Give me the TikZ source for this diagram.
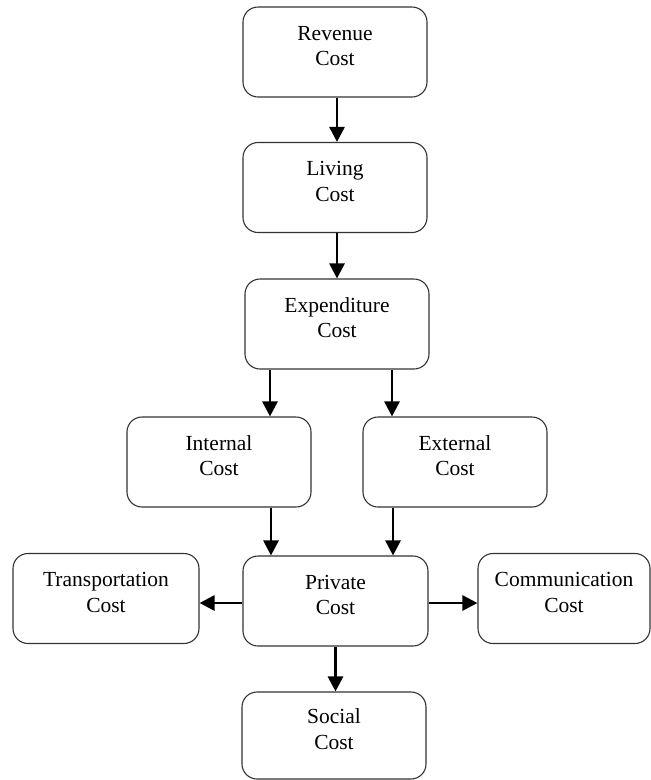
\documentclass[tikz,border=0pt]{standalone}
\usepackage{fontspec}
\setmainfont{Liberation Serif}
\usetikzlibrary{arrows.meta}
\begin{document}
\begin{tikzpicture}[x=1pt,y=-1pt,
  box/.style={draw=black!80, line width=1.1pt, rounded corners=15pt,
    minimum width=184pt, minimum height=90pt, align=center,
    font=\fontsize{21.5}{25.5}\selectfont, inner sep=0pt},
  arr/.style={line width=2.8pt, -{Triangle[length=15pt,width=15pt]}}]
\useasboundingbox (0,0) rectangle (651,780);
\node[box] (rev) at (335,52) {Revenue\\Cost\\[-13pt]};
\node[box] (liv) at (335,187.5) {Living\\Cost\\[-13pt]};
\node[box] (exp) at (337,324) {Expenditure\\Cost\\[-13pt]};
\node[box] (int) at (219,462) {Internal\\Cost\\[-13pt]};
\node[box] (ext) at (455,462) {External\\Cost\\[-13pt]};
\node[box, minimum width=186pt] (tra) at (106,598.5) {Transportation\\Cost\\[-13pt]};
\node[box, minimum width=185pt] (pri) at (335.5,601) {Private\\Cost\\[-13pt]};
\node[box, minimum width=172pt] (com) at (564,598.5) {Communication\\Cost\\[-13pt]};
\node[box, minimum height=87pt] (soc) at (334,735.5) {Social\\Cost\\[-13pt]};
\draw[arr] ([xshift=2pt]rev.south) -- ([xshift=2pt]rev.south |- liv.north);
\draw[arr] ([xshift=2pt]liv.south) -- ([xshift=2pt]liv.south |- exp.north);
\draw[arr] ([xshift=-67pt]exp.south) -- ([xshift=-67pt]exp.south |- int.north);
\draw[arr] ([xshift=55pt]exp.south) -- ([xshift=55pt]exp.south |- ext.north);
\draw[arr] ([xshift=52pt]int.south) -- ([xshift=52pt]int.south |- pri.north);
\draw[arr] ([xshift=-62pt]ext.south) -- ([xshift=-62pt]ext.south |- pri.north);
\draw[arr] ([yshift=-2pt]pri.west) -- ([yshift=-2pt]pri.west -| tra.east);
\draw[arr] ([yshift=-2pt]pri.east) -- ([yshift=-2pt]pri.east -| com.west);
\draw[arr] (pri.south) -- (pri.south |- soc.north);
\end{tikzpicture}
\end{document}
